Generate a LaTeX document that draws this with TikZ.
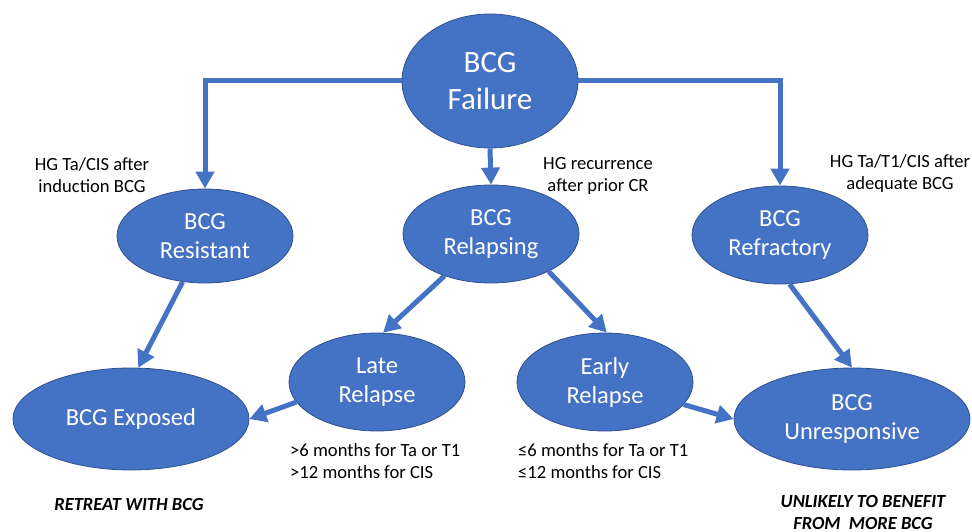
\documentclass[tikz,border=0pt]{standalone}
\usepackage{fontspec}
\setmainfont{Carlito}
\usetikzlibrary{arrows.meta}
\usetikzlibrary{shapes.geometric}
\definecolor{bcgblue}{HTML}{4472C4}
\definecolor{bcgedge}{HTML}{2F528F}
\tikzset{bubble/.style={ellipse,fill=bcgblue,draw=bcgedge,line width=0.8pt,text=white,inner sep=0pt,
    minimum width=176pt,minimum height=98pt,align=center,font=\fontsize{24.5}{29}\selectfont}}
\tikzset{widebubble/.style={bubble,minimum width=236pt,minimum height=102pt}}
\tikzset{flow/.style={draw=bcgblue,line width=5pt,line join=miter,-{Triangle[length=17pt,width=18pt]}}}
\tikzset{note/.style={align=center,inner sep=0pt,font=\fontsize{18.6}{22}\selectfont}}
\tikzset{verdict/.style={align=center,inner sep=0pt,font=\fontsize{18.5}{22}\bfseries\itshape\selectfont}}

\begin{document}
\begin{tikzpicture}[x=1pt,y=-1pt]
      \useasboundingbox (0,0) rectangle (972,532);
      \node[bubble,minimum height=134pt,font=\fontsize{31}{37}\selectfont] at (490,81) (fail) {BCG\\Failure};
      \node[bubble,minimum height=94pt] at (205,236) (res) {BCG\\Resistant};
      \node[bubble] at (491,234) (rel) {BCG\\Relapsing};
      \node[bubble] at (780,235) (ref) {BCG\\Refractory};
      \node[bubble] at (377,382) (late) {Late\\Relapse};
      \node[bubble] at (605,382) (early) {Early\\Relapse};
      \node[widebubble] at (131,419) (exp) {BCG Exposed};
      \node[widebubble] at (852,419) (unr) {BCG\\Unresponsive};

      \draw[flow] (fail.west) -| (res.north);
      \draw[flow] (fail.east) -| (ref.north);
      \draw[flow] (fail.south) -- (rel.north);
      \draw[flow] (res.244) -- (exp.82);
      \draw[flow] (rel.222) -- (late.83);
      \draw[flow] (rel.327) -- (early.88);
      \draw[flow] (late.194) -- (exp.0);
      \draw[flow] (early.344) -- (unr.180);
      \draw[flow] (ref.281) -- (unr.90);

      \node[note] at (92,175) (induction) {HG Ta/CIS after\\induction BCG};
      \node[note] at (598,176) (recurrence) {HG recurrence\\after prior CR};
      \node[note] at (900,174) (adequate) {HG Ta/T1/CIS after\\adequate BCG};
      \node[note,align=left,anchor=west] at (290,461) (latetime) {>6 months for Ta or T1\\>12 months for CIS};
      \node[note,align=left,anchor=west] at (518,461) (earlytime) {≤6 months for Ta or T1\\≤12 months for CIS};

      \node[verdict] at (129,504) (retreat) {RETREAT WITH BCG};
      \node[verdict] at (863,512) (unlikely) {UNLIKELY TO BENEFIT\\FROM\ \ MORE BCG};
    \end{tikzpicture}
\end{document}
